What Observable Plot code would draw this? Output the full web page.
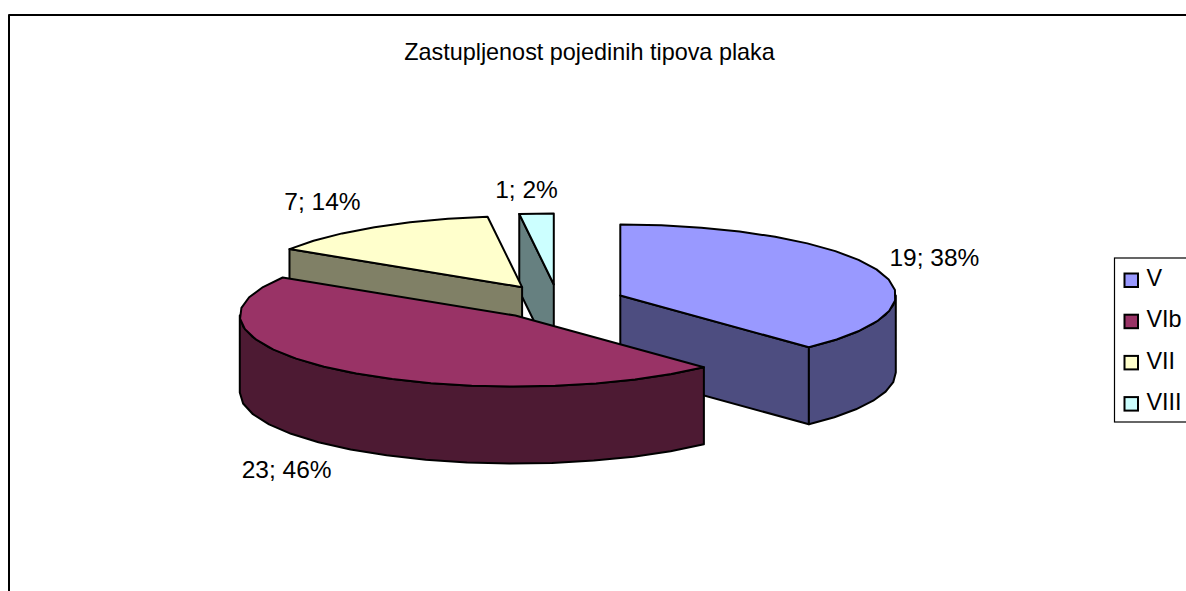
<!DOCTYPE html>
<html>
<head>
<meta charset="utf-8">
<style>html,body{margin:0;padding:0;background:#fff;overflow:hidden}svg{display:block}</style>
<script src="https://cdn.jsdelivr.net/npm/d3@7"></script>
<script src="https://cdn.jsdelivr.net/npm/@observablehq/plot@0.6"></script>
</head>
<body>
<div id="chart"></div>
<script>
// Data
const categories = ["V", "VIb", "VII", "VIII"];
const counts = [19, 23, 7, 1];
const titleText = "Zastupljenost pojedinih tipova plaka";

// Styles
const topColors = ["#9999FF", "#993366", "#FFFFCC", "#CCFFFF"];
const wallColors = ["#4D4D80", "#4D1A33", "#808066", "#668080"];
const drawOrder = [3, 2, 0, 1];
const FONT = "Liberation Sans, Arial, sans-serif";

// Layout of the 3D pie
const W = 1186, H = 591;
const pie = {cx: 557.5, cy: 301.5, rx: 275.5, ry: 71, depth: 77, explodeX: 67, explodeY: 17.6, step: 9};
const labelOffsetX = [58, -53, -52, -10];
const labelOffsetY = [-11, 23, -25, -23];

const total = d3.sum(counts);
const rad = d => d * Math.PI / 180;
let acc = 0;
const slices = categories.map((name, i) => {
  const a0 = acc / total * 360;
  acc += counts[i];
  const a1 = acc / total * 360;
  const mid = rad((a0 + a1) / 2);
  return {name, i, a0, a1, mid,
    cx: pie.cx + pie.explodeX * Math.sin(mid),
    cy: pie.cy - pie.explodeY * Math.cos(mid)};
});
const rim = (s, a, dz = 0) => ({x: s.cx + pie.rx * Math.sin(rad(a)), y: s.cy - pie.ry * Math.cos(rad(a)) + dz});
const arc = (s, a0, a1, dz = 0) => {
  const n = Math.max(1, Math.ceil((a1 - a0) / pie.step));
  return d3.range(n + 1).map(k => rim(s, a0 + (a1 - a0) * k / n, dz));
};
const apex = (s, dz = 0) => ({x: s.cx, y: s.cy + dz});
const face = (pts, fill) => Plot.line([...pts, pts[0]], {
  x: "x", y: "y", fill, stroke: "#000", strokeWidth: 2, strokeLinejoin: "round"
});

const pieMarks = [];
for (const i of drawOrder) {
  const s = slices[i], wall = wallColors[i];
  // radial walls that face the viewer
  if (Math.sin(rad(s.a0)) < -1e-6) {
    pieMarks.push(face([apex(s), rim(s, s.a0), rim(s, s.a0, pie.depth), apex(s, pie.depth)], wall));
  }
  if (Math.sin(rad(s.a1)) > 1e-6) {
    pieMarks.push(face([apex(s), rim(s, s.a1), rim(s, s.a1, pie.depth), apex(s, pie.depth)], wall));
  }
  // outer wall, front half only
  const f0 = Math.max(s.a0, 90), f1 = Math.min(s.a1, 270);
  if (f1 > f0) {
    pieMarks.push(face([...arc(s, f0, f1), ...arc(s, f0, f1, pie.depth).reverse()], wall));
  }
  // top
  pieMarks.push(face([apex(s), ...arc(s, s.a0, s.a1)], topColors[i]));
}

const labels = slices.map((s, i) => {
  const r = rim(s, (s.a0 + s.a1) / 2, Math.cos(s.mid) < -0.5 ? pie.depth : 0);
  return {x: r.x + labelOffsetX[i], y: r.y + labelOffsetY[i],
    text: `${counts[i]}; ${Math.round(counts[i] / total * 100)}%`};
});

// Legend layout
const legend = {x1: 1114.5, x2: 1200, y1: 258, y2: 422, swatchX1: 1124.5, swatchX2: 1138, swatchY: 273.5, swatchH: 13.5, gap: 41.2, textX: 1146};
const legendRows = categories.map((name, i) => ({
  name, color: topColors[i],
  y1: legend.swatchY + legend.gap * i,
  y2: legend.swatchY + legend.gap * i + legend.swatchH,
  ym: legend.swatchY + legend.gap * i + legend.swatchH / 2 - 2
}));

const frame = [{x: 8.5, y: H + 5}, {x: 8.5, y: 14.5}, {x: W + 5, y: 14.5}];

const chart = Plot.plot({
  width: W, height: H,
  margin: 0,
  style: {background: "#fff", overflow: "hidden"},
  x: {type: "linear", domain: [0, W], range: [0, W], axis: null},
  y: {type: "linear", domain: [0, H], range: [0, H], axis: null},
  marks: [
    Plot.line(frame, {x: "x", y: "y", stroke: "#000", strokeWidth: 2}),
    Plot.text([titleText], {x: () => 589, y: () => 52, text: d => d, fontFamily: FONT, fontSize: 23.4, fill: "#000", textAnchor: "middle"}),
    ...pieMarks,
    Plot.text(labels, {x: "x", y: "y", text: "text", fontFamily: FONT, fontSize: 24.5, fill: "#000", textAnchor: "middle"}),
    Plot.rect([legend], {x1: "x1", x2: "x2", y1: "y1", y2: "y2", fill: "#fff", stroke: "#000", strokeWidth: 1.2}),
    Plot.rect(legendRows, {x1: () => legend.swatchX1, x2: () => legend.swatchX2, y1: "y1", y2: "y2", fill: "color", stroke: "#000", strokeWidth: 2}),
    Plot.text(legendRows, {x: () => legend.textX, y: "ym", text: "name", fontFamily: FONT, fontSize: 23.4, fill: "#000", textAnchor: "start"})
  ]
});
document.getElementById("chart").append(chart);
</script>
</body>
</html>
